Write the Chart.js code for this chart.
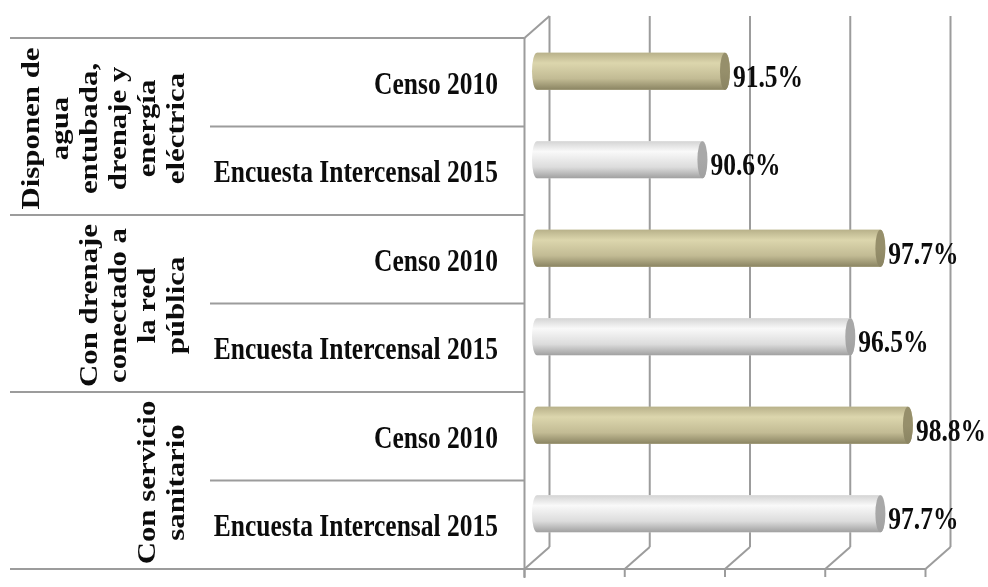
<!DOCTYPE html>
<html>
<head>
<meta charset="utf-8">
<script src="https://cdn.jsdelivr.net/npm/chart.js@4.4.1/dist/chart.umd.min.js"></script>
<style>
html, body { margin: 0; padding: 0; background: #fff; }
</style>
</head>
<body>
<canvas id="graficaServicios" width="988" height="587"></canvas>
<script>
// filas del eje de categorias (de arriba hacia abajo)
var filas = ['Censo 2010', 'Encuesta Intercensal 2015', 'Censo 2010', 'Encuesta Intercensal 2015', 'Censo 2010', 'Encuesta Intercensal 2015'];
var valores = [91.5, 90.6, 97.7, 96.5, 98.8, 97.7];
// etiquetas de grupo, cada una cubre 2 filas
var grupos = [
    ['Disponen de', 'agua', 'entubada,', 'drenaje y', 'energía', 'eléctrica'],
    ['Con drenaje', 'conectado a', 'la red', 'pública'],
    ['Con servicio', 'sanitario']
];
var marcas = [84, 88, 92, 96, 100];

var FUENTE = 'bold 25.5px "Liberation Serif", "Times New Roman", serif';
var ESTIRA = 1.21;      // texto un poco alargado en vertical
var DX = 12.5, DY = 11; // media profundidad del efecto 3D
var LINEA = '#9c9c9c';
var TINTA = '#0c0c0c';

// colores del cilindro: [borde sup, brillo, medio, borde inf, tapa]
var paletas = {
    censo: ['#b8b18a', '#dcd6ad', '#c2bb94', '#8a8462', '#968f6b'],
    encuesta: ['#d4d4d4', '#f9f9f9', '#dcdcdc', '#a0a0a0', '#a8a8a8']
};

function linea(ctx, x1, y1, x2, y2) {
    ctx.beginPath();
    ctx.moveTo(x1, y1);
    ctx.lineTo(x2, y2);
    ctx.stroke();
}

function cilindro(ctx, x0, x1, yc, h, pal) {
    var r = h / 2, rx = 5;
    var g = ctx.createLinearGradient(0, yc - r, 0, yc + r);
    g.addColorStop(0, pal[0]);
    g.addColorStop(0.28, pal[1]);
    g.addColorStop(0.7, pal[2]);
    g.addColorStop(1, pal[3]);
    ctx.beginPath();
    ctx.moveTo(x1, yc - r);
    ctx.lineTo(x0, yc - r);
    ctx.ellipse(x0, yc, rx, r, 0, -Math.PI / 2, Math.PI / 2, true);
    ctx.lineTo(x1, yc + r);
    ctx.ellipse(x1, yc, rx, r, 0, Math.PI / 2, -Math.PI / 2, true);
    ctx.closePath();
    ctx.fillStyle = g;
    ctx.fill();

    // tapa del extremo
    var t = ctx.createLinearGradient(0, yc - r, 0, yc + r);
    t.addColorStop(0, pal[4]);
    t.addColorStop(0.5, pal[4]);
    t.addColorStop(1, pal[3]);
    ctx.beginPath();
    ctx.ellipse(x1, yc, rx, r, 0, 0, Math.PI * 2);
    ctx.fillStyle = t;
    ctx.fill();
}

var marco3d = {
    id: 'marco3d',
    beforeDatasetsDraw: function (chart) {
        var ctx = chart.ctx, area = chart.chartArea;
        var xs = chart.scales.x, ys = chart.scales.y;
        var alto = (area.bottom - area.top) / filas.length;
        var frenteIzq = area.left - DX, frenteAbajo = area.bottom + DY;
        var fondoArriba = area.top - DY, fondoAbajo = area.bottom - DY;

        ctx.save();
        ctx.strokeStyle = LINEA;
        ctx.lineWidth = 2;

        // rejilla del fondo y piso
        marcas.forEach(function (v) {
            var px = xs.getPixelForValue(v);
            linea(ctx, px + DX, fondoArriba, px + DX, fondoAbajo);
            linea(ctx, px + DX, fondoAbajo, px - DX, frenteAbajo);
            linea(ctx, px - DX, frenteAbajo, px - DX, frenteAbajo + 8);
        });
        linea(ctx, frenteIzq, frenteAbajo, xs.getPixelForValue(100) - DX, frenteAbajo);

        // pared izquierda
        linea(ctx, frenteIzq, area.top + DY, frenteIzq, frenteAbajo + 9);
        linea(ctx, frenteIzq, area.top + DY, area.left + DX, fondoArriba);

        // tabla de categorias
        for (var i = 0; i <= filas.length; i++) {
            var y = area.top + i * alto + DY;
            linea(ctx, i % 2 === 0 ? 10 : 210, y, frenteIzq, y);
        }

        ctx.fillStyle = TINTA;
        ctx.font = FUENTE;
        ctx.textAlign = 'right';
        ctx.textBaseline = 'alphabetic';
        filas.forEach(function (f, i) {
            ctx.save();
            ctx.translate(498, ys.getPixelForValue(i) + DY + 11.5);
            ctx.scale(1, ESTIRA);
            ctx.fillText(f, 0, 0);
            ctx.restore();
        });

        ctx.textAlign = 'center';
        grupos.forEach(function (lineas, g) {
            var yc = area.top + (2 * g + 1) * alto + DY + 2;
            lineas.forEach(function (txt, k) {
                ctx.save();
                ctx.translate(184 - 29 * (lineas.length - 1 - k), yc);
                ctx.rotate(-Math.PI / 2);
                ctx.scale(ESTIRA, 1);
                ctx.fillText(txt, 0, 0);
                ctx.restore();
            });
        });
        ctx.restore();
    },
    afterDatasetsDraw: function (chart) {
        var ctx = chart.ctx;
        var meta = chart.getDatasetMeta(0);
        ctx.save();
        meta.data.forEach(function (bar, i) {
            var p = bar.getProps(['x', 'y', 'base', 'height'], true);
            cilindro(ctx, p.base, p.x, p.y, p.height, i % 2 === 0 ? paletas.censo : paletas.encuesta);

            ctx.save();
            ctx.font = FUENTE;
            ctx.fillStyle = TINTA;
            ctx.textAlign = 'left';
            ctx.textBaseline = 'alphabetic';
            ctx.translate(p.x + 8, p.y + 15.5);
            ctx.scale(1, ESTIRA);
            ctx.fillText(valores[i].toFixed(1) + '%', 0, 0);
            ctx.restore();
        });
        ctx.restore();
    }
};

var ctx = document.getElementById('graficaServicios').getContext('2d');
var grafica = new Chart(ctx, {
    type: 'bar',
    data: {
        labels: filas,
        datasets: [{
            data: valores,
            base: 84,
            backgroundColor: ['#ccc6a0', '#eeeeee', '#ccc6a0', '#eeeeee', '#ccc6a0', '#eeeeee'],
            borderWidth: 0,
            barPercentage: 0.42,
            categoryPercentage: 1
        }]
    },
    options: {
        indexAxis: 'y',
        responsive: false,
        animation: false,
        devicePixelRatio: 1,
        layout: { padding: { left: 537, right: 50, top: 27, bottom: 29 } },
        plugins: {
            legend: { display: false },
            tooltip: { enabled: false }
        },
        scales: {
            x: { display: false, min: 84, max: 100 },
            y: { display: false }
        }
    },
    plugins: [marco3d]
});
</script>
</body>
</html>
